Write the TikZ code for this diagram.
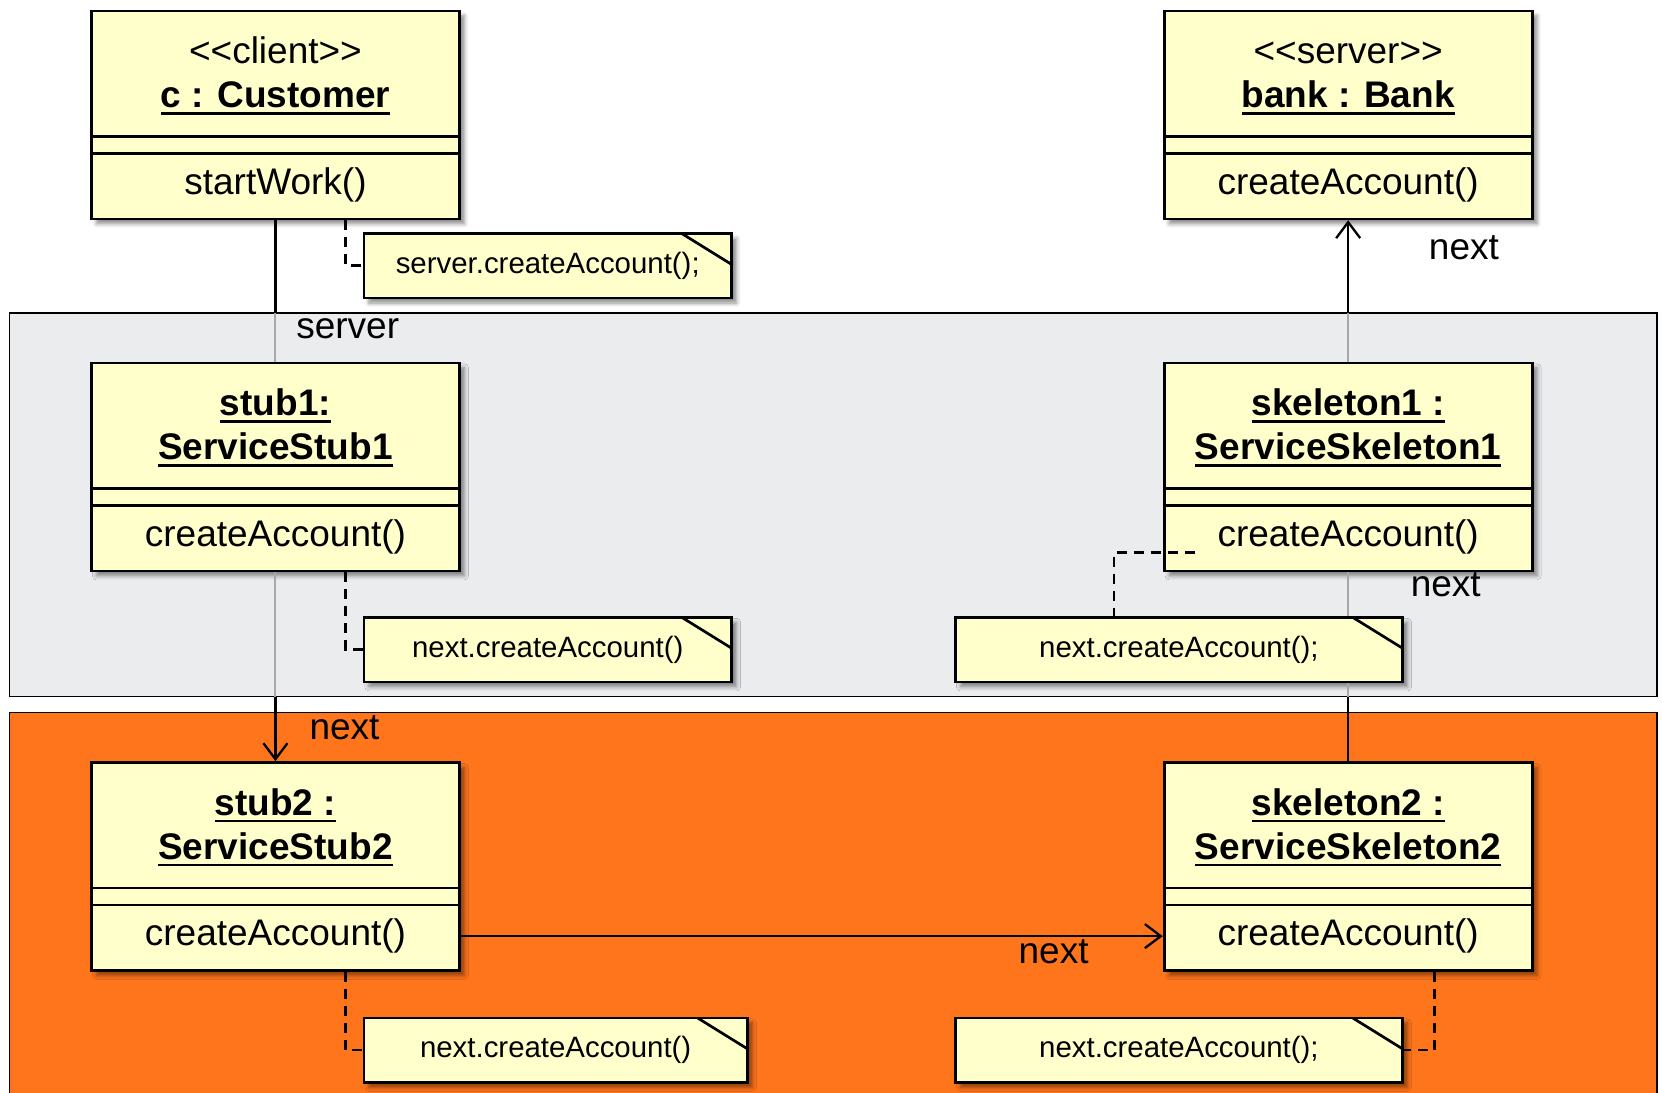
\documentclass[tikz,border=0pt]{standalone}
\usepackage{fontspec}
\setmainfont{Liberation Sans}
\usetikzlibrary{arrows.meta,calc,shadows.blur}

\definecolor{objfill}{HTML}{FFFFCC}
\definecolor{zonegrey}{RGB}{235,236,238}
\definecolor{zoneorange}{RGB}{255,117,28}
\definecolor{linkgrey}{RGB}{168,168,170}

% bold text with a heavy underline
\newcommand\ulbold[1]{\setbox0\hbox{\bfseries #1}\rlap{\rule[-3.6pt]{\wd0}{1.2pt}}\box0}

% UML object: name, left x, top y, first header line, second header line, method
\newcommand\objbox[6]{%
  \node[objframe, anchor=north west] (#1) at (#2,#3) {};
  \draw[sepline] ($(#1.north west)+(0,127)$) -- ($(#1.north east)+(0,127)$);
  \draw[sepline] ($(#1.north west)+(0,144)$) -- ($(#1.north east)+(0,144)$);
  \node[headtext, anchor=base] (#1-head1) at ($(#1.north)+(0,54)$) {#4};
  \node[headtext, anchor=base] (#1-head2) at ($(#1.north)+(0,98)$) {#5};
  \node[methtext] (#1-meth) at ($(#1.north)+(0,175)$) {#6};
}

\tikzset{
  softshadow/.style={blur shadow={shadow xshift=2.5pt, shadow yshift=-2.5pt,
      shadow blur radius=2pt, shadow opacity=45}},
  objframe/.style={draw, line width=1.35pt, fill=objfill, minimum width=184pt,
      minimum height=104pt, inner sep=0pt, softshadow},
  sepline/.style={line width=1.35pt},
  headtext/.style={font=\fontsize{18.5}{22.5}\selectfont, inner sep=0pt},
  methtext/.style={font=\fontsize{18.5}{22}\selectfont, inner sep=0pt},
  notebox/.style={draw, line width=1.35pt, fill=objfill, minimum height=32.3pt,
      inner sep=0pt, anchor=north west, font=\fontsize{14.7}{17}\selectfont, softshadow,
      path picture={\draw[line width=1.35pt]
        ([xshift=-25pt]path picture bounding box.north east) --
        ([yshift=-15.5pt]path picture bounding box.north east);}},
  zone/.style={draw=black, line width=0.8pt},
  link/.style={line width=1.15pt},
  veiled/.style={draw=linkgrey, line width=1pt},
  navarrow/.style={-{Straight Barb[length=8pt,width=12pt]}},
  anchorline/.style={line width=1.3pt, dash pattern=on 5pt off 3.5pt},
  lbl/.style={font=\fontsize{18.5}{22}\selectfont, inner sep=0pt},
}

\begin{document}
\begin{tikzpicture}[x=0.5pt, y=-0.5pt]
\useasboundingbox (0,0) rectangle (1662,1093);

% zones
\fill[zoneorange, zone] (9.5,712.5) rectangle (1656.7,1120);
\fill[zonegrey, zone] (9.5,312.7) rectangle (1656.7,696.5);
\coordinate (veiltop) at (0,312.7);
\coordinate (veilbot) at (0,696.5);

% objects
\objbox{customer}{90.1}{9.5}{<\kern0pt<client>\kern0pt>}{\ulbold{c : Customer}}{startWork()}
\objbox{bank}{1162.8}{9.5}{<\kern0pt<server>\kern0pt>}{\ulbold{bank : Bank}}{createAccount()}
\objbox{stub1}{90.1}{361.5}{\ulbold{stub1:}}{\ulbold{ServiceStub1}}{createAccount()}
\objbox{skel1}{1162.8}{361.5}{\ulbold{skeleton1 :}}{\ulbold{ServiceSkeleton1}}{createAccount()}
\objbox{stub2}{90.1}{761.1}{\ulbold{stub2 :}}{\ulbold{ServiceStub2}}{createAccount()}
\objbox{skel2}{1162.8}{761.1}{\ulbold{skeleton2 :}}{\ulbold{ServiceSkeleton2}}{createAccount()}

% notes
\node[notebox, minimum width=183.9pt] (note1) at (362.5,232.1) {server.createAccount();};
\node[notebox, minimum width=183.9pt] (note2) at (362.5,615.9) {next.createAccount()};
\node[notebox, minimum width=223.6pt] (note3) at (954,615.9) {next.createAccount();};
\node[notebox, minimum width=191.8pt] (note4) at (362.5,1016.5) {next.createAccount()};
\node[notebox, minimum width=223.6pt] (note5) at (954,1016.5) {next.createAccount();};

% links (paler where they cross the grey zone)
\draw[link] (customer.south) -- (customer.south |- veiltop);
\draw[veiled] (customer.south |- veiltop) -- (stub1.north);

\draw[veiled] (stub1.south) -- (stub1.south |- veilbot);
\draw[link, navarrow] (stub1.south |- veilbot) -- (stub2.north);

\draw[veiled] (skel1.north) -- (skel1.north |- veiltop);
\draw[link, navarrow] (skel1.north |- veiltop) -- (bank.south);

\draw[veiled] (skel1.south) -- (skel1.south |- note3.north);
\draw[veiled] (skel1.south |- note3.south) -- (skel1.south |- veilbot);
\draw[link] (skel1.south |- veilbot) -- (skel2.north);

\draw[link, navarrow] (stub2-meth -| stub2.east) -- (skel2-meth -| skel2.west);

% note attachments
\coordinate (s1tip) at ($(skel1.north west)+(31.8,190.8)$);
\draw[anchorline] ([xshift=127.75pt]customer.south west) |- (note1.west);
\draw[anchorline] ([xshift=127.75pt]stub1.south west) |- (note2.west);
\draw[anchorline] (s1tip) -| ([xshift=80pt]note3.north west);
\draw[anchorline] ([xshift=127.75pt]stub2.south west) |- (note4.west);
\draw[anchorline] ([xshift=135.7pt]skel2.south west) |- (note5.east);

% role labels
\node[lbl] (lbl-server) at (347.7,328.6) {server};
\node[lbl] (lbl-next1) at (1463.9,248) {next};
\node[lbl] (lbl-next2) at (1445.8,585.1) {next};
\node[lbl] (lbl-next3) at (344.5,728.2) {next};
\node[lbl] (lbl-next4) at (1053.6,951.9) {next};
\end{tikzpicture}
\end{document}
